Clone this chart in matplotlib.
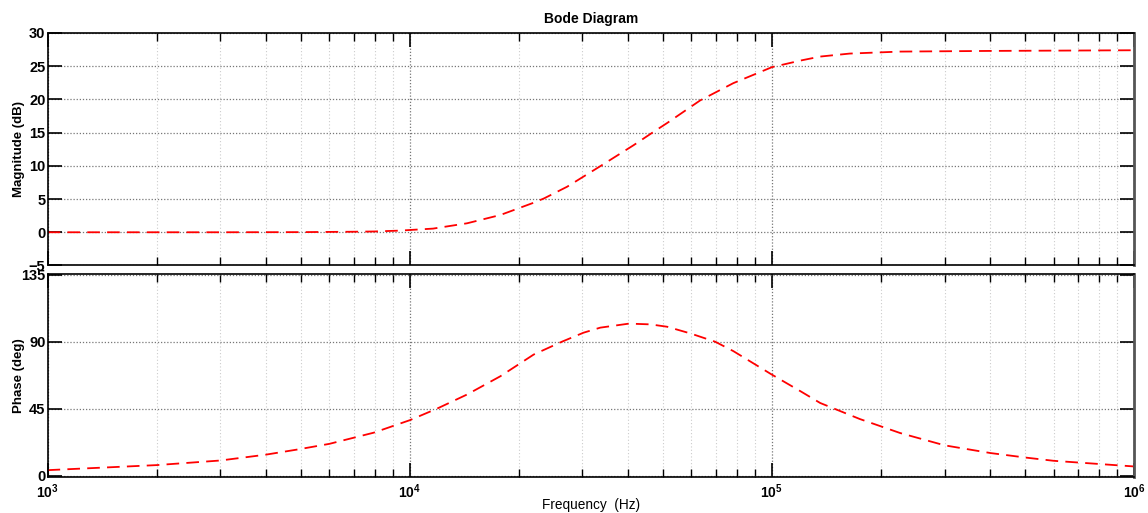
import matplotlib.pyplot as plt
from matplotlib.ticker import LogLocator, NullFormatter, FixedLocator

plt.rcParams["font.family"] = ["Liberation Sans", "DejaVu Sans"]

# Magnitude response (Hz, dB)
mag_freq = [1000, 2000, 3000, 5000, 7000, 8000, 9400, 11600, 14400, 17800,
            22000, 23500, 27200, 33600, 41500, 47100, 51400, 63400, 78300,
            100000, 120000, 136000, 164000, 226000, 400000, 1000000]
mag_db = [0.0, 0.0, 0.0, 0.02, 0.08, 0.12, 0.25, 0.55, 1.35, 2.6,
          4.45, 5.1, 6.85, 9.95, 13.1, 15.1, 16.45, 19.85, 22.45,
          24.85, 25.85, 26.45, 26.9, 27.2, 27.3, 27.4]

# Phase response (Hz, deg)
phase_freq = [1000, 2000, 3000, 4000, 4900, 6000, 7950, 10000, 11900, 14400,
              17800, 22000, 26300, 30200, 33600, 40300, 46200, 51400, 59600,
              69800, 78300, 100000, 120000, 136000, 175000, 226000, 300000,
              402000, 501000, 600000, 696000, 1000000]
phase_deg = [3.6, 7.0, 10.1, 14.0, 17.5, 21.3, 28.8, 37.2, 45.0, 54.5,
             66.8, 81.4, 90.0, 96.1, 99.5, 102.2, 101.7, 100.1, 95.6,
             90.0, 83.7, 67.9, 56.7, 48.8, 38.0, 28.6, 20.3,
             15.1, 12.1, 9.9, 8.8, 6.1]

mag_ticks = [-5, 0, 5, 10, 15, 20, 25, 30]
phase_ticks = [0, 45, 90, 135]

fig = plt.figure(figsize=(11.48, 5.13), dpi=100)
ax_mag = fig.add_axes([0.0414, 0.4825, 0.9464, 0.4532])
ax_ph = fig.add_axes([0.0414, 0.0696, 0.9464, 0.3963])

line_style = dict(color="#ff0000", linestyle=(0, (7, 4)), linewidth=1.3)
ax_mag.semilogx(mag_freq, mag_db, **line_style)
ax_ph.semilogx(phase_freq, phase_deg, **line_style)

for ax, ticks in [(ax_mag, mag_ticks), (ax_ph, phase_ticks)]:
    ax.set_xlim(1e3, 1e6)
    ax.yaxis.set_major_locator(FixedLocator(ticks))
    ax.xaxis.set_major_locator(LogLocator(base=10, numticks=10))
    ax.xaxis.set_minor_locator(LogLocator(base=10, subs=range(2, 10), numticks=10))
    ax.xaxis.set_minor_formatter(NullFormatter())
    ax.tick_params(which="major", direction="in", length=10, width=1.2,
                   top=True, right=True)
    ax.tick_params(axis="y", labelsize=10.5, pad=1.5)
    ax.tick_params(axis="x", labelsize=10, pad=4)
    ax.tick_params(which="minor", direction="in", length=6, width=1.0,
                   top=True, right=True)
    ax.grid(which="major", axis="both", color="#777777", linestyle=(0, (1, 1.5)), linewidth=0.9)
    ax.grid(which="minor", axis="x", color="#cccccc", linestyle=(0, (1, 2)), linewidth=0.8)
    for side in ["top", "left", "bottom"]:
        ax.spines[side].set_linewidth(1.2)
    ax.spines["right"].set_linewidth(2.0)
    ax.spines["right"].set_color("#555555")
    for lbl in ax.get_yticklabels() + ax.get_xticklabels():
        lbl.set_fontweight("bold")

ax_mag.set_ylim(-5, 30)
ax_mag.tick_params(labelbottom=False)
ax_ph.set_ylim(-1.2, 135.6)

ax_mag.set_title("Bode Diagram", fontsize=10, fontweight="bold", pad=7)
ax_mag.set_ylabel("Magnitude (dB)", fontsize=9.5, fontweight="bold")
ax_ph.set_ylabel("Phase (deg)", fontsize=9.5, fontweight="bold")
ax_mag.yaxis.set_label_coords(-0.021, 0.5)
ax_ph.yaxis.set_label_coords(-0.021, 0.5)
ax_ph.set_xlabel("Frequency  (Hz)", fontsize=9.8)
ax_ph.xaxis.set_label_coords(0.5, -0.1)

fig.savefig("out.png", dpi=100)
